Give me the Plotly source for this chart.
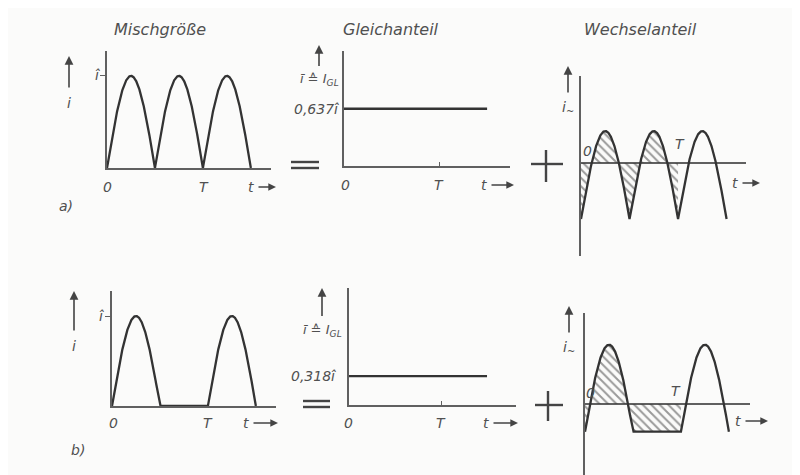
import numpy as np
import plotly.graph_objects as go

W, H = 800, 475

# ---- data (in units of peak value î and period T) ----
peak = 1.0
dc_full = 0.637          # Gleichanteil, Zweiweg
dc_half = 0.318          # Gleichanteil, Einweg
t_end = 1.5              # shown time span in periods
t_hatch = 1.0            # hatched span (one period)
titles = ["Mischgröße", "Gleichanteil", "Wechselanteil"]
dc_labels = ["0,637<i>î</i>", "0,318<i>î</i>"]

t = np.linspace(0, t_end, 721)
full_wave = peak * np.abs(np.sin(2 * np.pi * t))
half_wave = peak * np.clip(np.sin(2 * np.pi * t), 0, None)
ac_full = full_wave - dc_full
ac_half = half_wave - dc_half
mask = t <= t_hatch

# ---- panel geometry (pixels) ----
panels = {
    # name: (x0px, x1px, xmax, ybotpx, ytoppx, ymin, ymax)
    "a1": (99, 263, 1.71, 160, 43, 0.0, 1.27),
    "a2": (336, 502, 1.74, 158, 43, 0.0, 1.28),
    "a3": (573, 738, 1.70, 248, 68, -1.057, 0.989),
    "b1": (104, 268, 1.71, 398, 283, 0.0, 1.278),
    "b2": (341, 508, 1.815, 397, 280, 0.0, 1.286),
    "b3": (577, 742, 1.72, 470, 305, -0.85, 1.046),
}
order = ["a1", "a2", "a3", "b1", "b2", "b3"]

LINE = "#333333"
AX = "#606060"
TXT = "#505050"

fig = go.Figure()
layout = {}
for i, name in enumerate(order, start=1):
    x0, x1, xmax, yb, yt, ymin, ymax = panels[name]
    xa = "xaxis" if i == 1 else f"xaxis{i}"
    ya = "yaxis" if i == 1 else f"yaxis{i}"
    xs = "x" if i == 1 else f"x{i}"
    ys = "y" if i == 1 else f"y{i}"
    centered = name.endswith("3")
    layout[xa] = dict(domain=[x0 / W, x1 / W], range=[0, xmax], anchor=ys,
                      showgrid=False, zeroline=False, showticklabels=False,
                      showline=not centered, linecolor=AX, linewidth=1.5,
                      fixedrange=True)
    layout[ya] = dict(domain=[1 - yb / H, 1 - yt / H], range=[ymin, ymax], anchor=xs,
                      showgrid=False, showticklabels=False,
                      zeroline=centered, zerolinecolor=AX, zerolinewidth=1.5,
                      showline=True, linecolor=AX, linewidth=1.5, fixedrange=True)
    if name in ("a1", "b1"):
        layout[ya].update(ticks="outside", tickvals=[peak], ticklen=5,
                          tickcolor=AX, tickwidth=1.3)
    if name in ("a2", "b2"):
        layout[xa].update(ticks="inside", tickvals=[1.0], ticklen=4,
                          tickcolor=AX, tickwidth=1.3)

def ax_ids(name):
    i = order.index(name) + 1
    return ("x" if i == 1 else f"x{i}"), ("y" if i == 1 else f"y{i}")

line_style = dict(color=LINE, width=2.3)
hatch = dict(shape="\\", fgcolor="#3a3a3a", bgcolor="rgba(0,0,0,0)",
             size=6, solidity=0.33)

# a) Zweiweg
x, y = ax_ids("a1")
fig.add_trace(go.Scatter(x=t, y=full_wave, mode="lines", line=line_style, xaxis=x, yaxis=y))
x, y = ax_ids("a2")
fig.add_trace(go.Scatter(x=[0, t_end], y=[dc_full, dc_full], mode="lines", line=line_style, xaxis=x, yaxis=y))
x, y = ax_ids("a3")
fig.add_trace(go.Scatter(x=t[mask], y=ac_full[mask], mode="lines", line=dict(width=0),
                         fill="tozeroy", fillcolor="rgba(0,0,0,0)", fillpattern=hatch,
                         xaxis=x, yaxis=y))
fig.add_trace(go.Scatter(x=t, y=ac_full, mode="lines", line=line_style, xaxis=x, yaxis=y))

# b) Einweg
x, y = ax_ids("b1")
fig.add_trace(go.Scatter(x=t, y=half_wave, mode="lines", line=line_style, xaxis=x, yaxis=y))
x, y = ax_ids("b2")
fig.add_trace(go.Scatter(x=[0, t_end], y=[dc_half, dc_half], mode="lines", line=line_style, xaxis=x, yaxis=y))
x, y = ax_ids("b3")
fig.add_trace(go.Scatter(x=t[mask], y=ac_half[mask], mode="lines", line=dict(width=0),
                         fill="tozeroy", fillcolor="rgba(0,0,0,0)", fillpattern=hatch,
                         xaxis=x, yaxis=y))
fig.add_trace(go.Scatter(x=t, y=ac_half, mode="lines", line=line_style, xaxis=x, yaxis=y))

# ---- annotations ----
ann = []
def txt(s, px, py, size=14):
    ann.append(dict(text=s, x=px / W, y=1 - py / H, xref="paper", yref="paper",
                    showarrow=False, font=dict(size=size, color=TXT),
                    xanchor="center", yanchor="middle"))

def arrow_txt(s, tx, ty, hx, hy, size=14, w=1.6, gap=2):
    """text label at (tx,ty) with an arrow whose head is at (hx,hy)"""
    ann.append(dict(text=s, x=hx / W, y=1 - hy / H, xref="paper", yref="paper",
                    ax=tx - hx, ay=ty - hy, axref="pixel", ayref="pixel",
                    showarrow=True, arrowhead=2, arrowsize=1.1, arrowwidth=w,
                    arrowcolor="#444444", startstandoff=gap,
                    font=dict(size=size, color=TXT)))

# titles
txt(f"<i>{titles[0]}</i>", 152, 22, 16)
txt(f"<i>{titles[1]}</i>", 383, 22, 16)
txt(f"<i>{titles[2]}</i>", 632, 22, 16)

# a1
arrow_txt("<i>i</i>", 61, 95, 61, 48, gap=6)
txt("<i>î</i>", 89, 67)
txt("<i>0</i>", 99, 179); txt("<i>T</i>", 196, 179)
arrow_txt("<i>t</i>", 243, 179, 268, 179, w=1.4, gap=3)
txt("<i>a)</i>", 58, 198)
# a2
arrow_txt("<i>ī ≙ I<sub>GL</sub></i>", 311, 72, 311, 37, size=13, gap=4)
txt(f"<i>{dc_labels[0]}</i>", 308, 101)
txt("<i>0</i>", 337, 177); txt("<i>T</i>", 431, 177)
arrow_txt("<i>t</i>", 476, 177, 506, 177, w=1.4, gap=3)
# a3
arrow_txt("<i>i<sub>~</sub></i>", 560, 100, 560, 58, gap=5)
txt("<i>0</i>", 579, 143); txt("<i>T</i>", 672, 136)
arrow_txt("<i>t</i>", 727, 175, 752, 175, w=1.4, gap=3)

# b1
arrow_txt("<i>i</i>", 66, 338, 66, 283, gap=6)
txt("<i>î</i>", 93, 308)
txt("<i>0</i>", 105, 415); txt("<i>T</i>", 200, 415)
arrow_txt("<i>t</i>", 238, 415, 270, 415, w=1.4, gap=3)
txt("<i>b)</i>", 70, 442)
# b2
arrow_txt("<i>ī ≙ I<sub>GL</sub></i>", 314, 322, 314, 280, size=13, gap=4)
txt(f"<i>{dc_labels[1]}</i>", 305, 368)
txt("<i>0</i>", 340, 415); txt("<i>T</i>", 433, 415)
arrow_txt("<i>t</i>", 478, 415, 510, 415, w=1.4, gap=3)
# b3
arrow_txt("<i>i<sub>~</sub></i>", 561, 340, 561, 298, gap=5)
txt("<i>0</i>", 582, 385); txt("<i>T</i>", 668, 383)
arrow_txt("<i>t</i>", 730, 413, 760, 413, w=1.4, gap=3)

# ---- operator signs (= and +) ----
shapes = []
def hline(x0, x1, yy, w=2.4):
    shapes.append(dict(type="line", xref="paper", yref="paper",
                       x0=x0 / W, x1=x1 / W, y0=1 - yy / H, y1=1 - yy / H,
                       line=dict(color="#444444", width=w)))
def vline(xx, y0, y1, w=2.4):
    shapes.append(dict(type="line", xref="paper", yref="paper",
                       x0=xx / W, x1=xx / W, y0=1 - y0 / H, y1=1 - y1 / H,
                       line=dict(color="#444444", width=w)))
hline(283, 311, 154); hline(283, 311, 160)
hline(295, 322, 393); hline(295, 322, 399)
hline(523, 555, 156); vline(538, 142, 174)
hline(527, 555, 397); vline(540, 383, 413)

layout.update(dict(width=W, height=H, margin=dict(l=0, r=0, t=0, b=0),
                   paper_bgcolor="#fbfbfa", plot_bgcolor="rgba(0,0,0,0)",
                   showlegend=False, font=dict(family="DejaVu Sans", color=TXT),
                   annotations=ann, shapes=shapes))
fig.update_layout(**layout)
fig.write_html("out.html")
